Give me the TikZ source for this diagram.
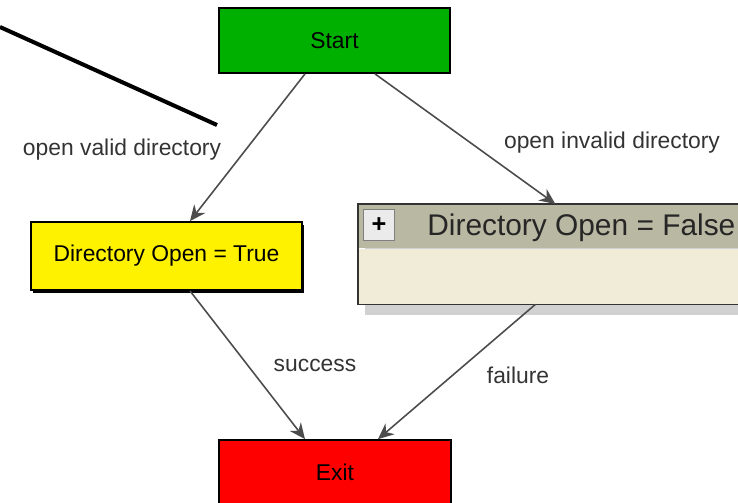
\documentclass[tikz,border=0pt]{standalone}
\usepackage{fontspec}
\setmainfont{Liberation Sans}
\usetikzlibrary{arrows.meta,shadows}
\definecolor{startgreen}{RGB}{0,176,0}
\definecolor{hdrgray}{RGB}{185,184,162}
\definecolor{bodycream}{RGB}{240,236,216}

\begin{document}
\begin{tikzpicture}[>={Stealth[length=9pt,width=8pt]},
  state/.style={draw=black,line width=1pt,font=\fontsize{13}{15}\selectfont},
  trans/.style={->,draw=black!70,line width=0.9pt},
  lbl/.style={font=\fontsize{13}{15}\selectfont,text=black!80}]
  \useasboundingbox (0,0) rectangle (14.76,-10.04);
  \draw[line width=2.3pt] (0,-0.54) -- (4.34,-2.5);

  \node[state,fill=startgreen,minimum width=4.62cm,minimum height=1.3cm] (start) at (6.69,-0.81) {Start};
  \node[state,fill=yellow,minimum width=5.42cm,minimum height=1.36cm,
    drop shadow={shadow xshift=1.2pt,shadow yshift=-1.5pt,fill=black,opacity=1}] (dtrue) at (3.33,-5.12) {Directory Open = True};
  \node[state,fill=red,minimum width=4.64cm,minimum height=1.3cm] (exit) at (6.7,-9.45) {Exit};

  % collapsed state, cut off at the right edge
  \fill[black!18] (7.3,-4.3) rectangle (15.2,-6.3);
  \node[fill=hdrgray,anchor=north west,inner sep=0pt,
    minimum width=7.74cm,minimum height=0.88cm] (fhdr) at (7.16,-4.08) {};
  \node[fill=bodycream,anchor=north,inner sep=0pt,
    minimum width=7.74cm,minimum height=1.1cm] (fbody) at (fhdr.south) {};
  \draw[black!80,line width=0.8pt] (fhdr.north west) rectangle (fbody.south east);
  \node[draw=black!50,fill=black!8,minimum size=0.62cm,inner sep=0pt,font=\bfseries\Large] (plus) at (7.58,-4.5) {+};
  \node[anchor=west,inner sep=0pt,font=\fontsize{17}{20}\selectfont,text=black!85] (ftext) at (8.54,-4.56) {Directory Open = False};

  \draw[trans] ([xshift=-0.59cm]start.south) -- ([xshift=0.47cm]dtrue.north);
  \draw[trans] ([xshift=0.81cm]start.south) -- ([xshift=0.07cm]fhdr.north);
  \draw[trans] ([xshift=0.47cm]dtrue.south) -- ([xshift=-0.6cm]exit.north);
  \draw[trans] ([xshift=-0.33cm]fbody.south) -- ([xshift=0.86cm]exit.north);

  \node[lbl] (lvalid) at (2.44,-3.0) {open valid directory};
  \node[lbl] (linvalid) at (12.24,-2.86) {open invalid directory};
  \node[lbl] (lsucc) at (6.3,-7.3) {success};
  \node[lbl] (lfail) at (10.36,-7.5) {failure};
\end{tikzpicture}
\end{document}
